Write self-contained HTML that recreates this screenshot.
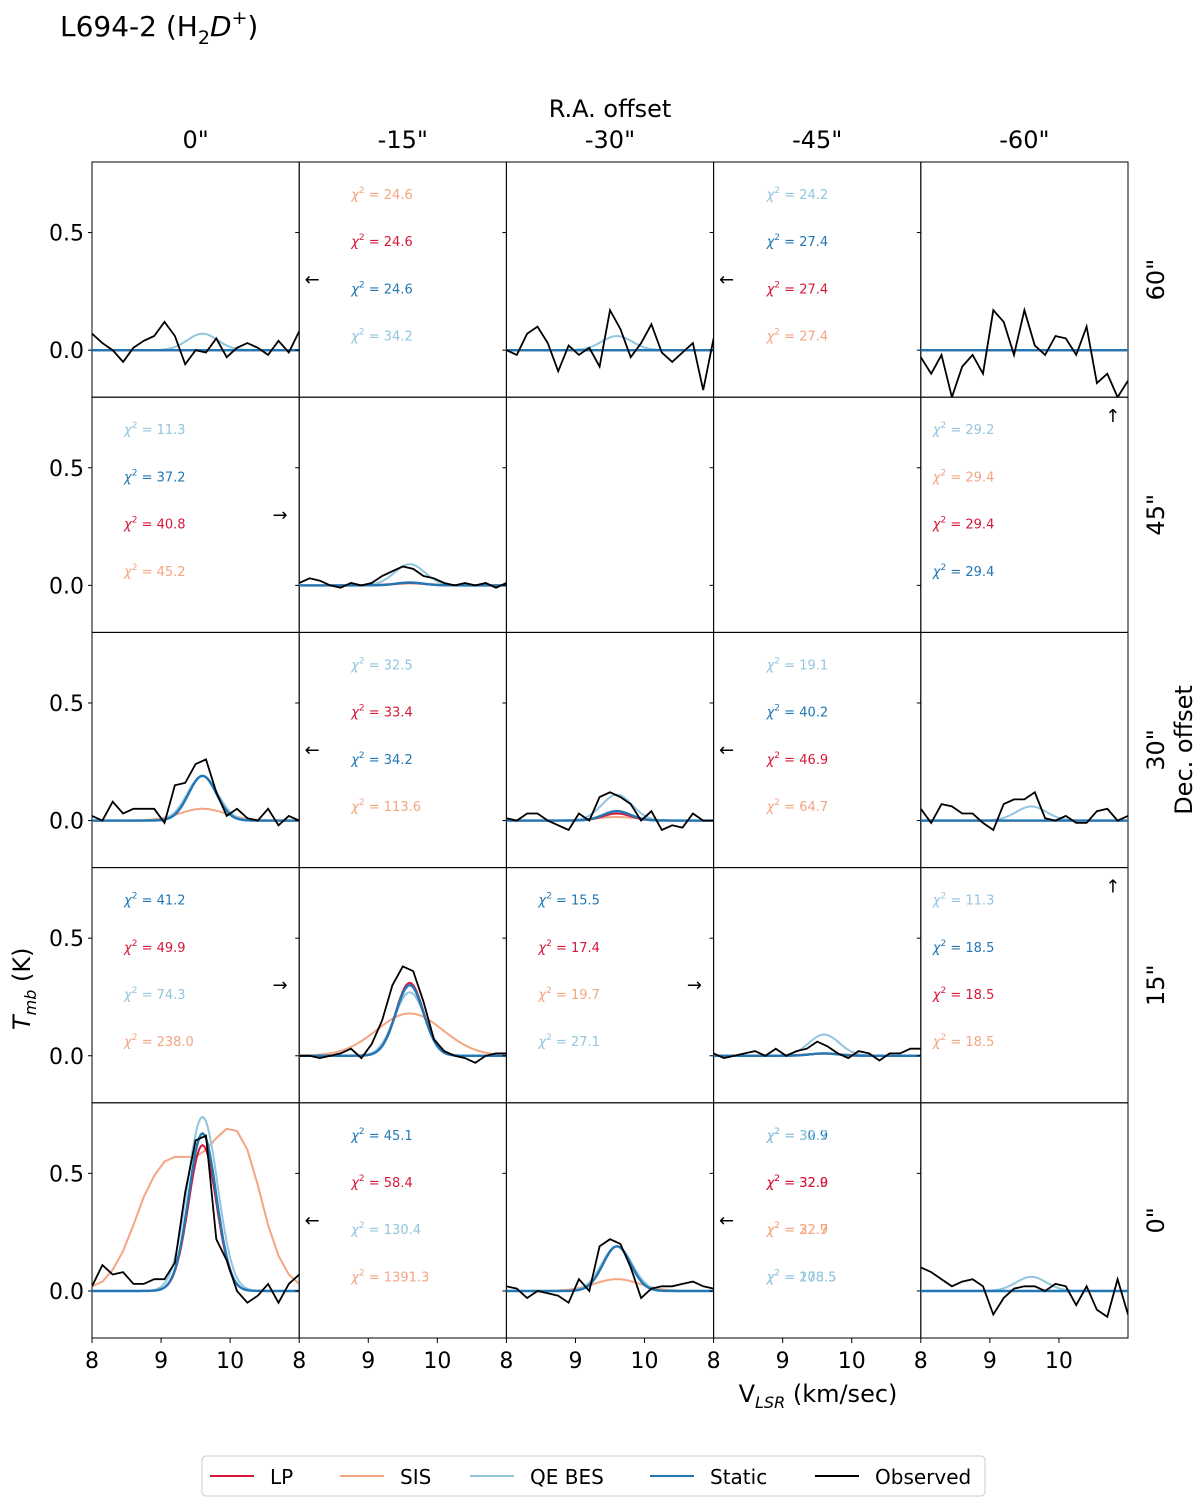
<!DOCTYPE html>
<html><head><meta charset="utf-8"><style>
body{margin:0;background:#fff;font-family:"DejaVu Sans","Liberation Sans",sans-serif;}
svg text{font-family:"DejaVu Sans","Liberation Sans",sans-serif;}
</style></head><body>
<svg id="chart" width="1200" height="1508" viewBox="0 0 1200 1508" xmlns="http://www.w3.org/2000/svg">
<text x="60" y="36" font-size="28">L694-2 (H<tspan font-size="19" dy="8">2</tspan><tspan dy="-8" font-style="italic">D</tspan><tspan font-size="19" dy="-12">+</tspan><tspan dy="12">)</tspan></text>
<text x="610" y="117" font-size="24" text-anchor="middle">R.A. offset</text>
<text x="818" y="1402" font-size="24" text-anchor="middle">V<tspan font-size="16" dy="6" font-style="italic">LSR</tspan><tspan dy="-6"> (km/sec)</tspan></text>
<text transform="translate(30,1030) rotate(-90)" font-size="24"><tspan font-style="italic">T</tspan><tspan font-size="16" dy="6" font-style="italic">mb</tspan><tspan dy="-6"> (K)</tspan></text>
<text transform="translate(1192,750) rotate(-90)" font-size="24" text-anchor="middle">Dec. offset</text>
<g id="g"></g>
<g>
<rect x="202" y="1456" width="783" height="40" rx="4" fill="#fff" stroke="#ccc"/>
</g>
</svg>
<script>
const colNames=['0"','-15"','-30"','-45"','-60"'];
const rowNames=['60"','45"','30"','15"','0"'];
const xTicks=[8,9,10];
const yTicks=[0.0,0.5];
const models=['LP','SIS','QE BES','Static'];
const colors={'LP':'#d6193a','SIS':'#f4a582','QE BES':'#92c5de','Static':'#2278b5','Observed':'#000'};
const obsStart=8.0, obsStep=0.15;
const obs={
'0-0':[0.07,0.03,0,-0.05,0.01,0.04,0.06,0.12,0.06,-0.06,0.0,-0.01,0.05,-0.03,0.01,0.03,0.01,-0.02,0.04,-0.01,0.08],
'0-2':[0.0,-0.02,0.07,0.1,0.03,-0.09,0.02,-0.02,0.01,-0.07,0.17,0.09,-0.03,0.03,0.11,-0.01,-0.05,-0.01,0.03,-0.17,0.05],
'0-4':[-0.03,-0.1,-0.02,-0.2,-0.07,-0.02,-0.1,0.17,0.12,-0.02,0.17,0.02,-0.02,0.06,0.05,-0.02,0.1,-0.14,-0.1,-0.2,-0.13],
'1-1':[0.01,0.03,0.02,0.0,-0.01,0.01,0.0,0.01,0.04,0.06,0.08,0.07,0.04,0.03,0.01,0.0,0.01,0,0.01,-0.01,0.01],
'2-0':[0.02,0.0,0.08,0.03,0.05,0.05,0.05,-0.01,0.15,0.16,0.24,0.26,0.12,0.02,0.05,0.01,0.0,0.05,-0.02,0.02,0.0],
'2-2':[0.01,0.0,0.03,0.03,0.0,-0.02,-0.04,0.03,0.0,0.1,0.12,0.1,0.07,0.0,0.04,-0.04,-0.02,-0.03,0.03,0.0,0.0],
'2-4':[0.05,-0.01,0.07,0.06,0.03,0.03,-0.01,-0.04,0.07,0.09,0.09,0.12,0.01,0.0,0.02,-0.01,-0.01,0.04,0.05,0.0,0.02],
'3-1':[0,0,-0.01,0,0.01,0.03,-0.01,0.05,0.15,0.3,0.38,0.36,0.23,0.07,0.02,0,-0.01,-0.03,0,0.01,0.01],
'3-3':[0.01,-0.01,0,0.01,0.02,0,0.03,0,0.02,0.03,0.06,0.04,0.01,-0.01,0.02,0.01,-0.02,0.01,0.01,0.03,0.03],
'4-0':[0.02,0.11,0.07,0.08,0.03,0.03,0.05,0.05,0.12,0.42,0.64,0.66,0.22,0.13,0.0,-0.05,-0.02,0.03,-0.05,0.03,0.07],
'4-2':[0.02,0.01,-0.03,0.0,-0.01,-0.02,-0.05,0.05,0.0,0.19,0.22,0.2,0.1,-0.03,0.01,0.02,0.02,0.03,0.04,0.02,0.01],
'4-4':[0.1,0.08,0.05,0.02,0.04,0.05,0.02,-0.1,-0.03,0.01,0.02,0.02,0.0,0.03,0.02,-0.06,0.02,-0.08,-0.11,0.05,-0.1]
};
const ampLP={'0-0':0,'0-2':0,'0-4':0,'1-1':0.01,'2-0':0.19,'2-2':0.03,'2-4':0,'3-1':0.31,'3-3':0.01,'4-0':0.62,'4-2':0.19,'4-4':0};
const ampSIS={'0-0':0,'0-2':0,'0-4':0,'1-1':0.008,'2-0':0.05,'2-2':0.015,'2-4':0,'3-1':0.18,'3-3':0.008,'4-2':0.05,'4-4':0};
const ampQE={'0-0':0.07,'0-2':0.06,'0-4':0,'1-1':0.09,'2-0':0.19,'2-2':0.11,'2-4':0.06,'3-1':0.27,'3-3':0.09,'4-0':0.74,'4-2':0.19,'4-4':0.06};
const ampStatic={'0-0':0,'0-2':0,'0-4':0,'1-1':0.012,'2-0':0.19,'2-2':0.04,'2-4':0,'3-1':0.30,'3-3':0.01,'4-0':0.67,'4-2':0.19,'4-4':0};
const widthModel={'LP':0.2,'SIS':0.33,'QE BES':0.22,'Static':0.2};
const widthSIS31=0.48;
const sis40=[0.02,0.04,0.09,0.17,0.28,0.40,0.49,0.55,0.57,0.57,0.57,0.6,0.65,0.69,0.68,0.6,0.45,0.28,0.15,0.07,0.03];
const center=9.6;
const chi={
'0-1':[['SIS','24.6'],['LP','24.6'],['Static','24.6'],['QE BES','34.2']],
'0-3':[['QE BES','24.2'],['Static','27.4'],['LP','27.4'],['SIS','27.4']],
'1-0':[['QE BES','11.3'],['Static','37.2'],['LP','40.8'],['SIS','45.2']],
'1-4':[['QE BES','29.2'],['SIS','29.4'],['LP','29.4'],['Static','29.4']],
'2-1':[['QE BES','32.5'],['LP','33.4'],['Static','34.2'],['SIS','113.6']],
'2-3':[['QE BES','19.1'],['Static','40.2'],['LP','46.9'],['SIS','64.7']],
'3-0':[['Static','41.2'],['LP','49.9'],['QE BES','74.3'],['SIS','238.0']],
'3-2':[['Static','15.5'],['LP','17.4'],['SIS','19.7'],['QE BES','27.1']],
'3-4':[['QE BES','11.3'],['Static','18.5'],['LP','18.5'],['SIS','18.5']],
'4-1':[['Static','45.1'],['LP','58.4'],['QE BES','130.4'],['SIS','1391.3']],
'4-3':[['Static','30.9'],['LP','32.0'],['SIS','32.7'],['QE BES','178.5']],
'4-3b':[['QE BES','32.7'],['LP','32.9'],['SIS','22.9'],['QE BES','208.5']]
};
const chiOffset=[32,52,32,53,12];
const arrows={'0-1':'←','0-3':'←','1-0':'→','1-4':'↑','2-1':'←','2-3':'←','3-0':'→','3-2':'→','3-4':'↑','4-1':'←','4-3':'←'};
const arrowPos={'←':[312,0.3],'→':[280,0.3],'↑':[1112-920,0.72]};

const NS='http://www.w3.org/2000/svg';
const g=document.getElementById('g');
const X0=92,PW=207.2,Y0=162,PH=235.2,xmin=8,xmax=11,ymin=-0.2,ymax=0.8;
function el(t,a,p){const e=document.createElementNS(NS,t);for(const k in a)e.setAttribute(k,a[k]);(p||g).appendChild(e);return e;}
function sx(c,v){return X0+c*PW+(v-xmin)/(xmax-xmin)*PW;}
function sy(r,v){return Y0+r*PH+(ymax-v)/(ymax-ymin)*PH;}
const gx=[];for(let i=0;i<=120;i++)gx.push(8+i*0.025);
function gauss(a,s){return gx.map(x=>a*Math.exp(-0.5*((x-center)/s)**2));}
for(let r=0;r<5;r++){for(let c=0;c<5;c++){
  const k=r+'-'+c;
  const cp=el('clipPath',{id:'cp'+k});
  el('rect',{x:X0+c*PW,y:Y0+r*PH,width:PW,height:PH},cp);
  const frame=el('rect',{x:X0+c*PW,y:Y0+r*PH,width:PW,height:PH,fill:'none',stroke:'#000','stroke-width':1});
  
  
  yTicks.forEach(t=>{el('line',{x1:X0+c*PW-4,x2:X0+c*PW,y1:sy(r,t),y2:sy(r,t),stroke:'#000'});});
  const clipG=el('g',{'clip-path':'url(#cp'+k+')'});
  if(obs[k]){
    const order=[['SIS',ampSIS],['QE BES',ampQE],['LP',ampLP],['Static',ampStatic]];
    order.forEach(([m,arr])=>{
      let ys,xs=gx;
      if(m==='SIS'&&k==='4-0'){xs=sis40.map((v,i)=>obsStart+i*obsStep);ys=sis40;}
      else{const a=arr[k]||0;ys=gauss(a,(m==='SIS'&&k==='3-1')?widthSIS31:widthModel[m]);}
      const pts=xs.map((x,i)=>sx(c,x).toFixed(1)+','+sy(r,ys[i]).toFixed(1)).join(' ');
      const p=el('polyline',{points:pts,fill:'none',stroke:colors[m],'stroke-width':m==='Static'?2.4:2},clipG);
      
      
    });
    const o=obs[k];
    const pts=o.map((v,i)=>sx(c,obsStart+i*obsStep).toFixed(1)+','+sy(r,v).toFixed(1)).join(' ');
    const p=el('polyline',{points:pts,fill:'none',stroke:'#000','stroke-width':1.8},clipG);
    
    
  }
  [k,k+'b'].forEach(kk=>{ if(chi[kk]) chi[kk].forEach((e,i)=>{
    const t=el('text',{x:X0+c*PW+chiOffset[c],y:Y0+r*PH+37+i*47.2,'font-size':13,fill:colors[e[0]]});
    
    
    t.innerHTML='<tspan font-style="italic">χ</tspan><tspan font-size="9" dy="-6">2</tspan><tspan dy="6"> = '+e[1]+'</tspan>';
  });});
  if(arrows[k]){const a=arrows[k];const pp=arrowPos[a];
    const ax=a==='↑'?X0+c*PW+pp[0]:(a==='→'?X0+c*PW+pp[0]-92:X0+c*PW+pp[0]-299);
    const t=el('text',{x:ax,y:sy(r,pp[1])+6,'font-size':18,'text-anchor':'middle'});t.textContent=a;
    
    }
}}
yTicks.forEach(t=>{for(let r=0;r<5;r++){const e=el('text',{x:84,y:sy(r,t)+8,'font-size':22,'text-anchor':'end'});e.textContent=t.toFixed(1);
  }});
for(let c=0;c<5;c++){xTicks.forEach(t=>{
  el('line',{x1:sx(c,t),x2:sx(c,t),y1:Y0+5*PH,y2:Y0+5*PH+5,stroke:'#000'});
  const e=el('text',{x:sx(c,t),y:1368,'font-size':22,'text-anchor':'middle'});e.textContent=t;
  });
  const h=el('text',{x:X0+c*PW+PW/2,y:148,'font-size':24,'text-anchor':'middle'});h.textContent=colNames[c];
  }
for(let r=0;r<5;r++){const h=el('text',{'font-size':24,'text-anchor':'middle',transform:'translate(1164,'+(Y0+r*PH+PH/2)+') rotate(-90)'});h.textContent=rowNames[r];
  }
const svg=document.getElementById('chart');
const leg=[['LP',210],['SIS',340],['QE BES',470],['Static',650],['Observed',815]];
leg.forEach(([n,x])=>{
  const ln=el('line',{x1:x,x2:x+44,y1:1476,y2:1476,stroke:colors[n],'stroke-width':2},svg);
  
  
  const t=el('text',{x:x+60,y:1484,'font-size':20},svg);t.textContent=n;
  
  
});
</script>
</body></html>
